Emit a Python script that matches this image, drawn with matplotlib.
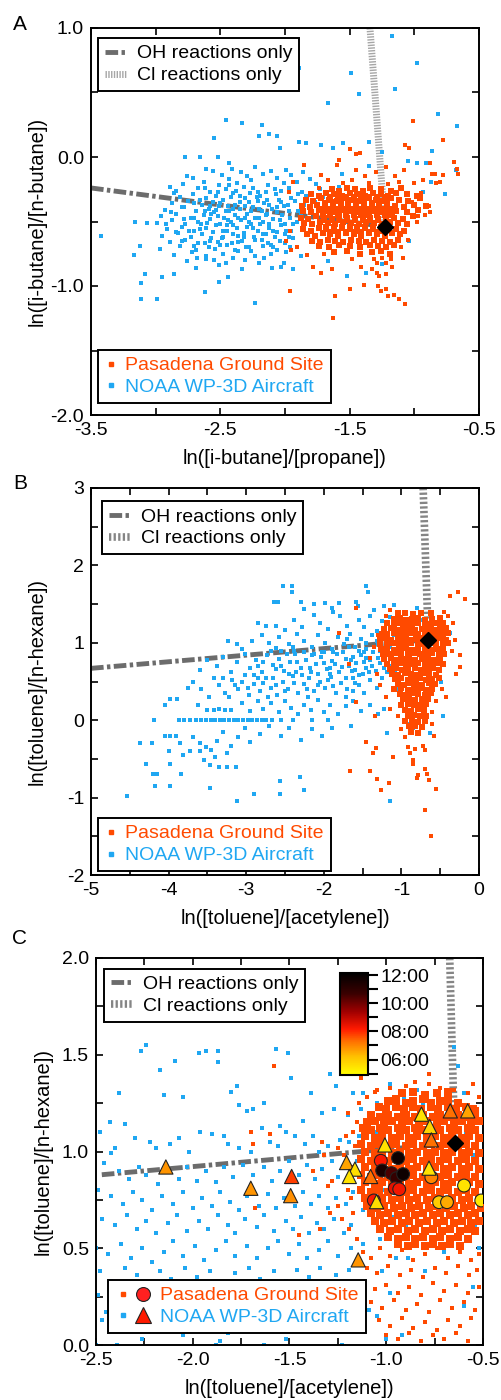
import matplotlib
matplotlib.use('Agg')
import matplotlib.pyplot as plt
from matplotlib.lines import Line2D
from matplotlib.legend_handler import HandlerTuple
from matplotlib.colors import LinearSegmentedColormap, Normalize
from matplotlib.cm import ScalarMappable
from matplotlib.ticker import FixedLocator, FormatStrFormatter

plt.rcParams['font.family'] = ['Liberation Sans', 'DejaVu Sans']
plt.rcParams['axes.unicode_minus'] = False

# ---------------- Panel A data ----------------
a_blue = [
(-1.17,0.94),(-0.98,0.73),(-1.49,0.65),(-1.89,0.69),(-1.43,0.49),(-1.15,0.53),(-1.67,0.42),(-0.82,0.33),(-0.67,0.24),
(-2.46,0.29),(-2.33,0.26),(-2.18,0.25),(-2.55,0.15),(-2.20,0.16),(-2.12,0.18),(-2.06,0.16),(-2.04,0.07),(-1.89,0.12),
(-1.84,0.11),(-1.72,0.09),(-1.63,0.07),(-1.55,0.11),(-1.35,0.12),(-1.25,0.04),(-0.86,0.05),(-1.05,-0.03),(-0.98,-0.05),
(-0.91,-0.05),(-1.35,-0.07),(-0.76,-0.29),(-0.68,-0.10),(-2.77,0.0),(-2.66,0.0),(-2.52,0.0),(-2.43,-0.05),(-2.61,-0.09),
(-2.76,-0.15),(-2.89,-0.23),(-2.86,-0.28),(-3.16,-0.50),(-3.07,-0.51),(-3.42,-0.61),(-3.17,-0.76),(-3.12,-0.69),(-3.08,-0.91),
(-3.11,-0.98),(-3.11,-1.10),(-2.99,-1.10),(-2.95,-0.93),(-2.86,-0.91),(-2.62,-1.05),(-2.51,-0.97),(-2.44,-0.93),(-2.23,-1.13),
(-2.10,-0.86),(-2.03,-0.85),(-1.94,-0.87),(-1.78,-0.85),(-1.67,-0.81),(-1.52,-0.92),(-1.37,-0.90),(-1.25,-0.83),(-1.12,-0.64),
(-1.04,-0.65),(-0.93,-0.27),(-0.87,-0.19),(-1.56,-0.13),(-1.58,-0.23),
(-2.56,-0.11),(-2.41,-0.09),(-2.34,-0.12),(-2.23,-0.08),(-2.11,-0.11),(-1.99,-0.10),(-1.86,-0.12),
(-2.71,-0.16),(-2.49,-0.14),(-2.43,-0.17),(-2.29,-0.15),(-2.17,-0.13),(-2.06,-0.16),(-1.95,-0.14),(-1.81,-0.17),
(-2.79,-0.21),(-2.63,-0.19),(-2.51,-0.22),(-2.37,-0.20),(-2.26,-0.18),(-2.13,-0.22),(-2.01,-0.20),(-1.91,-0.19),(-1.76,-0.21),
(-2.84,-0.26),(-2.67,-0.24),(-2.58,-0.27),(-2.46,-0.25),(-2.32,-0.23),(-2.21,-0.27),(-2.08,-0.25),(-1.97,-0.24),(-1.87,-0.27),(-1.73,-0.25),
(-2.81,-0.31),(-2.71,-0.29),(-2.61,-0.32),(-2.53,-0.30),(-2.40,-0.28),(-2.31,-0.32),(-2.19,-0.30),(-2.07,-0.29),(-1.95,-0.32),(-1.84,-0.30),(-1.71,-0.31),
(-2.87,-0.36),(-2.75,-0.34),(-2.64,-0.37),(-2.56,-0.35),(-2.48,-0.33),(-2.39,-0.37),(-2.28,-0.35),(-2.21,-0.34),(-2.12,-0.37),(-2.03,-0.35),(-1.92,-0.34),(-1.85,-0.37),(-1.77,-0.35),
(-2.93,-0.41),(-2.80,-0.39),(-2.69,-0.42),(-2.59,-0.40),(-2.51,-0.38),(-2.43,-0.42),(-2.35,-0.40),(-2.25,-0.39),(-2.18,-0.42),(-2.10,-0.40),(-2.01,-0.38),(-1.90,-0.42),(-1.81,-0.40),
(-2.96,-0.46),(-2.84,-0.44),(-2.73,-0.47),(-2.63,-0.45),(-2.55,-0.43),(-2.47,-0.47),(-2.39,-0.45),(-2.29,-0.44),(-2.23,-0.47),(-2.15,-0.45),(-2.06,-0.43),(-1.96,-0.47),(-1.88,-0.45),
(-2.99,-0.51),(-2.87,-0.49),(-2.77,-0.52),(-2.67,-0.50),(-2.58,-0.48),(-2.50,-0.52),(-2.42,-0.50),(-2.34,-0.49),(-2.26,-0.52),(-2.17,-0.50),(-2.09,-0.48),(-2.00,-0.52),(-1.91,-0.50),
(-2.91,-0.56),(-2.80,-0.54),(-2.70,-0.57),(-2.61,-0.55),(-2.53,-0.53),(-2.45,-0.57),(-2.37,-0.55),(-2.29,-0.54),(-2.21,-0.57),(-2.12,-0.55),(-2.03,-0.53),(-1.95,-0.57),
(-2.95,-0.61),(-2.83,-0.59),(-2.73,-0.62),(-2.64,-0.60),(-2.56,-0.58),(-2.48,-0.62),(-2.40,-0.60),(-2.32,-0.59),(-2.24,-0.62),(-2.15,-0.60),(-2.06,-0.58),(-1.97,-0.62),
(-2.89,-0.66),(-2.77,-0.64),(-2.67,-0.67),(-2.58,-0.65),(-2.49,-0.63),(-2.41,-0.67),(-2.33,-0.65),(-2.23,-0.64),(-2.13,-0.67),(-2.04,-0.65),(-1.94,-0.63),
(-2.97,-0.71),(-2.81,-0.69),(-2.69,-0.72),(-2.59,-0.70),(-2.50,-0.68),(-2.39,-0.72),(-2.28,-0.70),(-2.17,-0.69),(-2.06,-0.72),(-1.96,-0.70),
(-2.86,-0.76),(-2.72,-0.74),(-2.61,-0.77),(-2.48,-0.75),(-2.36,-0.73),(-2.23,-0.77),(-2.11,-0.75),(-1.99,-0.74),(-1.88,-0.77),
(-2.76,-0.81),(-2.61,-0.79),(-2.46,-0.82),(-2.31,-0.80),(-2.16,-0.78),(-2.01,-0.82),(-2.69,-0.86),(-2.51,-0.84),(-2.33,-0.87),
(-2.62,-0.42),(-2.44,-0.38),(-2.31,-0.47),(-2.19,-0.52),(-2.08,-0.62),(-2.36,-0.61),(-2.52,-0.66),(-2.27,-0.28),(-2.14,-0.33),
(-2.02,-0.45),(-2.45,-0.53),(-2.66,-0.56),(-2.20,-0.40),(-2.38,-0.26),(-2.57,-0.44),(-1.99,-0.57),(-2.11,-0.68),(-2.30,-0.70),
(-2.66,-0.33),(-2.58,-0.38),(-2.50,-0.36),(-2.42,-0.31),(-2.35,-0.35),(-2.26,-0.42),(-2.16,-0.36),(-2.06,-0.39),(-1.97,-0.42),
(-2.70,-0.47),(-2.60,-0.51),(-2.52,-0.46),(-2.44,-0.49),(-2.36,-0.47),(-2.28,-0.50),(-2.20,-0.47),(-2.12,-0.52),(-2.04,-0.49),(-1.94,-0.52),
(-2.74,-0.57),(-2.65,-0.52),(-2.57,-0.63),(-2.48,-0.57),(-2.40,-0.53),(-2.32,-0.62),(-2.25,-0.55),(-2.17,-0.60),(-2.09,-0.57),(-2.00,-0.60),
(-2.80,-0.65),(-2.70,-0.69),(-2.62,-0.67),(-2.54,-0.71),(-2.45,-0.68),(-2.36,-0.66),(-2.26,-0.73),(-2.18,-0.64),(-2.09,-0.70),(-2.00,-0.67),
(-2.78,-0.39),(-2.70,-0.36),(-2.53,-0.41),(-2.46,-0.42),(-2.40,-0.40),(-2.31,-0.38),(-2.22,-0.31),(-2.14,-0.44),(-2.05,-0.33),(-1.98,-0.37),
(-2.62,-0.24),(-2.52,-0.27),(-2.43,-0.22),(-2.35,-0.30),(-2.25,-0.24),(-2.15,-0.27),(-2.03,-0.26),(-1.90,-0.29),
(-2.92,-0.52),(-2.84,-0.58),(-2.78,-0.48),(-2.88,-0.43),(-2.68,-0.78),(-2.55,-0.80),(-2.40,-0.78),(-2.20,-0.82),
]
a_orange_core = [
(-1.64,-0.25),(-1.58,-0.26),(-1.52,-0.24),(-1.46,-0.25),(-1.40,-0.26),(-1.34,-0.24),(-1.26,-0.25),(-1.18,-0.26),(-1.10,-0.24),
(-1.80,-0.29),(-1.74,-0.30),(-1.68,-0.28),(-1.62,-0.29),(-1.56,-0.30),(-1.50,-0.28),(-1.44,-0.29),(-1.38,-0.30),(-1.32,-0.28),(-1.26,-0.29),(-1.20,-0.30),(-1.14,-0.28),(-1.06,-0.29),(-0.98,-0.30),
(-1.84,-0.33),(-1.78,-0.34),(-1.72,-0.32),(-1.66,-0.33),(-1.60,-0.34),(-1.54,-0.32),(-1.48,-0.33),(-1.42,-0.34),(-1.36,-0.32),(-1.30,-0.33),(-1.24,-0.34),(-1.18,-0.32),(-1.12,-0.33),(-1.05,-0.34),(-0.96,-0.32),
(-1.87,-0.38),(-1.81,-0.39),(-1.75,-0.37),(-1.69,-0.38),(-1.63,-0.39),(-1.57,-0.37),(-1.51,-0.38),(-1.45,-0.39),(-1.39,-0.37),(-1.33,-0.38),(-1.27,-0.39),(-1.21,-0.37),(-1.15,-0.38),(-1.08,-0.39),(-1.00,-0.37),(-0.91,-0.38),
(-1.86,-0.42),(-1.80,-0.43),(-1.74,-0.41),(-1.68,-0.42),(-1.62,-0.43),(-1.56,-0.41),(-1.50,-0.42),(-1.44,-0.43),(-1.38,-0.41),(-1.32,-0.42),(-1.26,-0.43),(-1.20,-0.41),(-1.14,-0.42),(-1.06,-0.43),(-0.97,-0.41),
(-1.88,-0.47),(-1.82,-0.48),(-1.76,-0.46),(-1.70,-0.47),(-1.64,-0.48),(-1.58,-0.46),(-1.52,-0.47),(-1.46,-0.48),(-1.40,-0.46),(-1.34,-0.47),(-1.28,-0.48),(-1.22,-0.46),(-1.16,-0.47),(-1.09,-0.48),(-1.01,-0.46),
(-1.85,-0.51),(-1.79,-0.52),(-1.73,-0.50),(-1.67,-0.51),(-1.61,-0.52),(-1.55,-0.50),(-1.49,-0.51),(-1.43,-0.52),(-1.37,-0.50),(-1.31,-0.51),(-1.25,-0.52),(-1.19,-0.50),(-1.13,-0.51),(-1.06,-0.52),
(-1.86,-0.56),(-1.80,-0.57),(-1.74,-0.55),(-1.68,-0.56),(-1.62,-0.57),(-1.56,-0.55),(-1.50,-0.56),(-1.44,-0.57),(-1.38,-0.55),(-1.32,-0.56),(-1.26,-0.57),(-1.20,-0.55),(-1.14,-0.56),(-1.08,-0.57),
(-1.83,-0.60),(-1.77,-0.61),(-1.71,-0.59),(-1.65,-0.60),(-1.59,-0.61),(-1.53,-0.59),(-1.47,-0.60),(-1.41,-0.61),(-1.35,-0.59),(-1.29,-0.60),(-1.23,-0.61),(-1.17,-0.59),(-1.11,-0.60),
(-1.79,-0.65),(-1.73,-0.66),(-1.67,-0.64),(-1.61,-0.65),(-1.55,-0.66),(-1.49,-0.64),(-1.43,-0.65),(-1.37,-0.66),(-1.31,-0.64),(-1.25,-0.65),(-1.19,-0.66),(-1.13,-0.64),
(-1.74,-0.69),(-1.66,-0.70),(-1.58,-0.68),(-1.50,-0.69),(-1.42,-0.70),(-1.34,-0.68),(-1.28,-0.69),(-1.22,-0.70),(-1.16,-0.68),
(-1.62,-0.74),(-1.52,-0.73),(-1.42,-0.75),(-1.33,-0.74),(-1.26,-0.73),(-1.19,-0.75),
(-1.65,-0.31),(-1.59,-0.31),(-1.53,-0.31),(-1.47,-0.31),(-1.41,-0.31),(-1.35,-0.31),(-1.29,-0.31),(-1.23,-0.31),
(-1.69,-0.36),(-1.63,-0.35),(-1.57,-0.36),(-1.51,-0.35),(-1.45,-0.36),(-1.39,-0.35),(-1.33,-0.36),(-1.27,-0.35),(-1.21,-0.36),
(-1.72,-0.40),(-1.66,-0.40),(-1.60,-0.40),(-1.54,-0.40),(-1.48,-0.40),(-1.42,-0.40),(-1.36,-0.40),(-1.30,-0.40),(-1.24,-0.40),(-1.18,-0.40),
(-1.71,-0.45),(-1.65,-0.45),(-1.59,-0.45),(-1.53,-0.45),(-1.47,-0.45),(-1.41,-0.45),(-1.35,-0.45),(-1.29,-0.45),(-1.23,-0.45),(-1.17,-0.45),
(-1.70,-0.49),(-1.64,-0.49),(-1.58,-0.49),(-1.52,-0.49),(-1.46,-0.49),(-1.40,-0.49),(-1.34,-0.49),(-1.28,-0.49),(-1.22,-0.49),
(-1.68,-0.54),(-1.62,-0.54),(-1.56,-0.54),(-1.50,-0.54),(-1.44,-0.54),(-1.38,-0.54),(-1.32,-0.54),(-1.26,-0.54),
(-1.65,-0.58),(-1.59,-0.58),(-1.53,-0.58),(-1.47,-0.58),(-1.41,-0.58),(-1.35,-0.58),(-1.29,-0.58),
]
a_orange = [
(-1.01,0.28),(-0.78,0.13),(-0.69,-0.04),(-0.67,-0.09),(-0.66,-0.13),(-1.07,0.09),(-1.04,0.07),(-1.50,0.06),(-1.45,0.02),
(-1.42,0.03),(-0.88,-0.05),(-0.86,-0.13),(-0.84,-0.13),(-0.78,-0.14),(-0.80,-0.19),(-0.83,-0.20),(-0.93,-0.18),(-0.89,-0.38),
(-0.88,-0.43),(-0.92,-0.45),(-0.98,-0.50),(-0.97,-0.46),(-1.05,-0.64),(-1.09,-0.78),(-1.96,-1.04),(-1.61,-1.08),(-1.63,-1.25),
(-1.50,-1.02),(-1.39,-0.99),(-1.28,-1.00),(-1.26,-1.04),(-1.22,-1.02),(-1.20,-1.08),(-1.16,-1.07),(-1.12,-1.10),(-1.07,-1.14),
(-1.41,-0.85),(-1.33,-0.87),(-1.29,-0.90),(-1.27,-0.92),(-1.22,-0.91),(-1.29,-0.82),(-1.22,-0.82),(-1.17,-0.85),(-1.72,-0.90),
(-1.64,-0.87),(-1.78,-0.85),(-1.95,-0.72),(-1.99,-0.65),(-1.96,-0.57),(-1.91,-0.70),(-1.83,-0.76),(-1.85,-0.06),(-1.94,-0.19),
(-1.97,-0.27),(-1.60,-0.06),(-1.58,-0.02),(-1.72,-0.14),(-1.67,-0.18),(-1.45,-0.10),(-1.38,-0.15),(-1.30,-0.12),(-1.22,-0.08),
(-1.15,-0.15),(-1.08,-0.10),(-1.00,-0.20),(-0.95,-0.28),(-1.02,-0.35),(-1.25,-0.78),(-1.31,-0.79),(-1.18,-0.79),
(-1.55,-0.20),(-1.48,-0.18),(-1.35,-0.20),(-1.20,-0.21),(-1.12,-0.19),(-1.74,-0.24),(-1.70,-0.75),(-1.48,-0.79),(-1.10,-0.70),
]
a_ref = (-1.227, -0.539)
a_oh_start = (-3.5, -0.24)
a_ci_start = (-1.343, 1.0)

# ---------------- Panel B data ----------------
b_blue = [
(-2.53,1.74),(-2.41,1.73),(-2.41,1.66),(-1.45,1.73),(-1.43,1.66),(-2.64,1.53),(-2.59,1.53),(-2.30,1.53),(-2.12,1.50),
(-1.98,1.52),(-1.80,1.52),(-1.58,1.53),(-1.56,1.48),(-1.23,1.48),(-1.10,1.49),(-2.26,1.44),(-1.90,1.45),(-1.35,1.42),
(-2.74,1.22),(-2.62,1.22),(-2.39,1.30),(-2.13,1.36),(-1.88,1.40),(-1.79,1.35),(-1.55,1.30),(-1.40,1.35),(-1.25,1.28),
(-1.15,1.33),(-2.85,1.25),(-2.50,1.16),(-2.28,1.20),(-2.05,1.25),(-1.95,1.18),(-1.70,1.22),(-1.48,1.20),(-1.32,1.15),
(-1.12,1.20),(-1.02,1.25),
(-3.23,1.02),(-3.12,0.99),(-2.93,1.02),(-2.80,1.10),(-2.70,1.00),(-2.58,1.08),(-2.45,0.98),(-2.35,1.12),(-2.25,1.02),
(-2.15,0.95),(-2.08,1.10),(-1.98,1.00),(-1.90,0.92),(-1.82,1.08),(-1.74,0.98),(-1.66,1.12),(-1.60,0.95),(-1.52,1.05),
(-1.45,0.92),(-1.38,1.10),(-1.30,0.98),(-1.22,1.06),(-1.15,0.95),(-3.05,0.92),(-2.62,0.93),(-2.38,0.90),(-2.02,0.88),
(-3.60,0.65),(-3.50,0.78),(-3.38,0.70),(-3.30,0.82),(-3.20,0.62),(-3.12,0.75),(-3.02,0.85),(-2.95,0.68),(-2.88,0.78),
(-2.80,0.62),(-2.73,0.84),(-2.66,0.71),(-2.58,0.79),(-2.51,0.64),(-2.44,0.75),(-2.37,0.85),(-2.30,0.68),(-2.23,0.78),
(-2.17,0.62),(-2.10,0.72),(-2.03,0.82),(-1.96,0.66),(-1.90,0.76),(-1.83,0.85),(-1.77,0.69),(-1.71,0.79),(-1.64,0.63),
(-1.58,0.74),(-1.52,0.84),(-1.46,0.68),(-1.40,0.78),(-1.33,0.64),(-1.27,0.74),(-1.20,0.85),(-1.13,0.70),(-2.26,0.88),
(-2.48,0.86),(-1.75,0.88),(-1.55,0.90),(-1.92,0.60),(-2.62,0.66),(-2.85,0.70),
(-3.98,0.28),(-3.89,0.28),(-3.68,0.50),(-3.58,0.40),(-3.48,0.30),(-3.42,0.55),(-3.35,0.45),(-3.27,0.35),(-3.18,0.52),
(-3.10,0.40),(-3.02,0.58),(-2.96,0.32),(-2.90,0.47),(-2.82,0.38),(-2.75,0.55),(-2.68,0.42),(-2.60,0.33),(-2.53,0.50),
(-2.46,0.40),(-2.40,0.57),(-2.33,0.35),(-2.26,0.47),(-2.19,0.55),(-2.12,0.38),(-2.05,0.50),(-1.98,0.42),(-1.91,0.56),
(-1.84,0.35),(-1.78,0.48),(-1.70,0.40),(-1.63,0.55),(-1.55,0.45),(-1.48,0.35),(-1.40,0.52),(-1.32,0.42),(-1.25,0.55),
(-1.55,0.58),(-2.72,0.30),(-3.22,0.30),(-3.75,0.42),
(-3.50,0.13),(-3.42,0.13),(-3.35,0.14),(-3.27,0.13),(-3.20,0.13),(-3.62,0.20),(-3.05,0.22),(-2.95,0.12),(-2.85,0.25),
(-2.78,0.15),(-2.68,0.22),(-2.58,0.10),(-2.50,0.25),(-2.42,0.16),(-2.33,0.08),(-2.25,0.20),(-2.16,0.13),(-2.08,0.26),
(-2.00,0.10),(-1.92,0.20),(-1.82,0.08),(-1.72,0.18),(-1.62,0.25),(-1.52,0.12),(-1.40,0.20),(-1.30,0.08),(-1.22,0.15),(-4.05,0.20),
(-4.19,0.0),(-3.87,0.0),(-3.80,0.0),(-3.72,0.0),(-3.65,0.0),(-3.58,0.0),(-3.52,0.0),(-3.46,0.0),(-3.40,0.0),(-3.34,0.0),
(-3.28,0.0),(-3.22,0.0),(-3.16,0.0),(-3.10,0.0),(-3.04,0.0),(-2.98,0.0),(-2.92,0.0),(-2.86,0.0),(-2.80,0.0),(-2.74,0.0),
(-2.67,0.0),(-2.55,0.0),(-2.40,0.0),(-2.15,0.0),(-1.95,0.0),
(-4.05,-0.21),(-3.98,-0.21),(-3.90,-0.21),(-4.37,-0.29),(-4.22,-0.29),(-3.85,-0.30),(-3.68,-0.22),(-3.60,-0.30),(-3.52,-0.35),
(-3.45,-0.38),(-3.38,-0.27),(-3.30,-0.15),(-3.20,-0.33),(-3.10,-0.22),(-3.02,-0.10),(-2.95,-0.28),(-2.82,-0.18),(-2.70,-0.08),
(-2.55,-0.20),(-2.45,-0.10),(-2.30,-0.25),(-2.15,-0.12),(-2.02,-0.20),(-4.00,-0.40),(-3.72,-0.40),(-3.60,-0.40),(-3.40,-0.48),
(-3.25,-0.42),(-3.55,-0.52),(-3.47,-0.58),(-3.35,-0.60),(-3.82,-0.45),(-1.90,-0.10),(-1.65,-0.08),
(-4.54,-0.98),(-4.29,-0.56),(-4.20,-0.69),(-4.15,-0.69),(-4.18,-0.85),(-3.98,-0.85),(-3.98,-0.56),(-3.84,-0.69),(-3.47,-0.88),
(-3.12,-1.04),(-2.90,-0.95),(-2.57,-0.79),(-2.57,-0.95),(-2.31,-0.74),(-2.25,-0.90),(-1.15,-1.04),(-3.25,-0.60),(-3.13,-0.60),
(-1.19,-0.17),(-0.63,-0.17),(-0.46,0.05),(-0.49,0.49),(-0.37,1.13),(-0.42,1.05),(-0.55,0.60),(-1.05,0.40),(-1.00,0.20),
(-1.08,0.65),(-1.10,1.10),(-0.95,1.20),(-0.80,1.45),(-0.72,1.30),(-0.55,1.25),(-0.50,0.90),(-0.85,-0.10),(-0.92,-0.05),
(-1.62,0.82),(-1.68,0.70),(-1.48,0.75),(-1.85,0.72),(-2.00,0.74),(-2.15,0.84),(-1.36,0.88),(-1.42,0.62),(-2.36,0.62),
(-1.60,0.48),(-1.88,0.44),(-2.20,0.30),(-1.45,1.00),(-1.70,1.05),(-1.28,0.90),(-2.55,0.90),(-2.78,0.48),(-3.05,0.50),
(-2.90,0.58),(-2.78,0.75),(-2.66,0.55),(-2.55,0.70),(-2.45,0.60),(-2.35,0.75),(-2.28,0.58),(-2.18,0.68),(-2.08,0.60),
(-2.00,0.88),(-1.92,0.68),(-1.80,0.62),(-1.72,0.55),(-1.65,0.78),(-1.60,0.65),(-1.50,0.60),(-1.45,0.80),(-1.38,0.70),
(-1.30,0.80),(-1.22,0.68),(-1.18,0.62),(-2.68,0.90),(-2.40,0.95),(-2.12,0.85),(-1.88,0.88),(-1.68,0.95),(-1.48,0.88),
(-1.32,1.02),(-3.30,0.55),(-3.15,0.45),(-2.98,0.42),(-2.85,0.55),(-2.62,0.45),(-2.50,0.38),(-2.38,0.48),(-2.22,0.40),
(-2.08,0.45),(-1.95,0.52),(-1.72,0.30),(-1.62,0.38),
]
b_orange_core = [
(-1.05,1.38),(-0.95,1.39),(-0.85,1.37),(-0.75,1.38),(-0.62,1.39),
(-1.10,1.31),(-1.02,1.32),(-0.94,1.30),(-0.86,1.31),(-0.78,1.32),(-0.70,1.30),(-0.60,1.31),(-0.50,1.32),
(-1.18,1.25),(-1.10,1.24),(-1.02,1.26),(-0.94,1.25),(-0.86,1.24),(-0.78,1.26),(-0.70,1.25),(-0.62,1.24),(-0.54,1.26),(-0.46,1.25),
(-1.22,1.18),(-1.14,1.19),(-1.06,1.17),(-0.98,1.18),(-0.90,1.19),(-0.82,1.17),(-0.74,1.18),(-0.66,1.19),(-0.58,1.17),(-0.50,1.18),(-0.42,1.19),
(-1.25,1.12),(-1.18,1.11),(-1.10,1.13),(-1.02,1.12),(-0.94,1.11),(-0.86,1.13),(-0.78,1.12),(-0.70,1.11),(-0.62,1.13),(-0.54,1.12),(-0.46,1.11),(-0.40,1.13),
(-1.28,1.05),(-1.21,1.06),(-1.13,1.04),(-1.05,1.05),(-0.97,1.06),(-0.89,1.04),(-0.81,1.05),(-0.73,1.06),(-0.65,1.04),(-0.57,1.05),(-0.49,1.06),(-0.42,1.04),
(-1.27,0.99),(-1.19,0.98),(-1.11,1.00),(-1.03,0.99),(-0.95,0.98),(-0.87,1.00),(-0.79,0.99),(-0.71,0.98),(-0.63,1.00),(-0.55,0.99),(-0.47,0.98),(-0.40,1.00),
(-1.26,0.92),(-1.18,0.93),(-1.10,0.91),(-1.02,0.92),(-0.94,0.93),(-0.86,0.91),(-0.78,0.92),(-0.70,0.93),(-0.62,0.91),(-0.54,0.92),(-0.46,0.93),
(-1.24,0.86),(-1.16,0.85),(-1.08,0.87),(-1.00,0.86),(-0.92,0.85),(-0.84,0.87),(-0.76,0.86),(-0.68,0.85),(-0.60,0.87),(-0.52,0.86),(-0.45,0.85),
(-1.22,0.79),(-1.14,0.80),(-1.06,0.78),(-0.98,0.79),(-0.90,0.80),(-0.82,0.78),(-0.74,0.79),(-0.66,0.80),(-0.58,0.78),(-0.50,0.79),
(-1.18,0.73),(-1.10,0.72),(-1.02,0.74),(-0.94,0.73),(-0.86,0.72),(-0.78,0.74),(-0.70,0.73),(-0.62,0.72),(-0.54,0.74),(-0.47,0.73),
(-1.15,0.66),(-1.07,0.67),(-0.99,0.65),(-0.91,0.66),(-0.83,0.67),(-0.75,0.65),(-0.67,0.66),(-0.59,0.67),(-0.51,0.65),
(-1.12,0.60),(-1.04,0.59),(-0.96,0.61),(-0.88,0.60),(-0.80,0.59),(-0.72,0.61),(-0.64,0.60),(-0.56,0.59),
(-1.08,0.53),(-1.00,0.54),(-0.92,0.52),(-0.84,0.53),(-0.76,0.54),(-0.68,0.52),(-0.60,0.53),(-0.52,0.54),
(-1.05,0.47),(-0.97,0.46),(-0.89,0.48),(-0.81,0.47),(-0.73,0.46),(-0.65,0.48),(-0.57,0.47),
(-1.10,0.40),(-1.00,0.41),(-0.92,0.39),(-0.84,0.40),(-0.76,0.41),(-0.68,0.39),(-0.60,0.40),
(-1.02,0.34),(-0.94,0.33),(-0.86,0.35),(-0.78,0.34),(-0.70,0.33),(-0.62,0.35),
(-0.98,0.27),(-0.90,0.28),(-0.82,0.26),(-0.74,0.27),(-0.66,0.28),
(-1.00,0.20),(-0.92,0.21),(-0.84,0.19),(-0.76,0.20),(-0.68,0.21),
(-0.95,0.13),(-0.87,0.12),(-0.79,0.14),(-0.71,0.13),
(-0.92,0.06),(-0.84,0.07),(-0.76,0.05),(-0.68,0.06),
(-0.96,-0.01),(-0.86,0.00),(-0.78,-0.02),(-0.70,-0.01),
(-0.90,-0.08),(-0.82,-0.07),(-0.74,-0.09),(-0.88,-0.15),(-0.78,-0.16),
]
b_orange = [
(-0.37,1.60),(-0.27,1.66),(-0.18,1.56),(-1.58,1.45),(-1.81,1.13),(-1.68,0.72),(-1.58,0.24),(-1.34,0.05),(-1.46,-0.28),
(-1.33,-0.36),(-1.37,-0.43),(-1.66,-0.66),(-1.41,-0.65),(-1.31,-0.76),(-1.26,-0.90),(-1.16,-0.81),(-1.11,-0.48),(-0.91,-0.35),
(-0.89,-0.43),(-0.85,-0.52),(-0.85,-0.57),(-0.83,-0.37),(-0.72,-0.33),(-0.70,-0.38),(-0.78,-0.71),(-0.80,-0.75),(-0.70,-0.63),
(-0.67,-0.69),(-0.65,-0.77),(-0.55,-0.89),(-0.70,-1.16),(-0.62,-1.50),(-0.42,0.30),(-0.25,0.84),(-0.24,0.69),(-0.31,1.04),
(-1.30,1.10),(-1.35,0.95),(-1.40,0.80),(-1.32,0.60),(-1.28,0.45),(-1.20,0.30),(-1.15,0.15),(-1.05,0.05),(-0.60,0.10),
(-0.55,0.25),(-0.48,0.40),(-0.40,1.35),(-0.33,1.25),(-0.45,1.40),(-1.20,1.35),(-1.15,1.42),(-0.35,0.90),(-0.30,0.60),
(-0.60,-0.05),(-0.58,-0.20),(-0.95,-0.22),(-1.00,-0.12),
]
b_ref = (-0.653, 1.04)
b_oh_start = (-5.0, 0.67)
b_ci_start = (-0.72, 3.0)

# ---------------- Panel C data ----------------
c_blue = [
(-2.24,1.55),(-2.27,1.52),(-2.17,1.42),(-2.09,1.47),(-1.97,1.51),(-1.93,1.52),(-1.87,1.52),(-1.87,1.46),(-1.57,1.53),
(-1.51,1.51),(-1.49,1.38),(-1.77,1.34),(-1.80,1.31),(-2.05,1.28),(-2.38,1.30),(-2.15,1.29),(-1.63,1.25),(-1.76,1.24),
(-1.69,1.22),(-1.39,1.30),(-1.29,1.40),(-1.26,1.34),(-1.17,1.30),(-1.12,1.30),(-1.05,1.25),(-0.98,1.35),(-0.91,1.27),
(-0.84,1.32),(-0.63,1.44),(-0.65,1.54),(-0.60,1.30),(-1.43,1.16),(-1.55,1.13),(-1.72,1.21),(-1.33,1.20),(-1.27,1.22),
(-1.20,1.19),(-1.13,1.22),
(-2.43,1.15),(-2.35,1.14),(-2.48,1.10),(-2.40,1.02),(-2.42,0.99),(-2.30,1.07),(-2.22,1.05),(-2.19,1.02),(-2.12,1.04),
(-2.07,1.07),(-2.02,1.00),(-1.96,1.10),(-1.90,1.09),(-1.84,1.08),(-1.82,1.04),(-1.76,1.02),(-1.70,1.00),(-1.64,1.12),
(-1.60,1.05),(-1.56,1.03),(-1.52,1.10),(-1.47,1.08),(-1.42,1.04),(-1.38,1.08),(-1.35,1.00),(-1.30,1.03),(-1.24,1.06),
(-1.19,1.05),(-1.14,1.08),
(-2.46,0.94),(-2.38,0.90),(-2.33,0.86),(-2.28,0.92),(-2.24,0.88),(-2.18,0.83),(-2.13,0.90),(-2.07,0.86),(-2.03,0.92),
(-1.98,0.85),(-1.93,0.90),(-1.88,0.84),(-1.84,0.92),(-1.79,0.87),(-1.74,0.93),(-1.69,0.88),(-1.63,0.92),(-1.59,0.85),
(-1.55,0.90),(-1.50,0.95),(-1.45,0.88),(-1.41,0.93),(-1.37,0.86),(-1.33,0.91),(-1.28,0.95),(-1.25,0.87),(-1.15,0.95),(-1.11,0.86),
(-2.49,0.80),(-2.42,0.77),(-2.36,0.73),(-2.31,0.79),(-2.26,0.75),(-2.21,0.70),(-2.16,0.77),(-2.10,0.73),(-2.05,0.79),
(-2.00,0.71),(-1.95,0.76),(-1.90,0.72),(-1.86,0.79),(-1.81,0.74),(-1.76,0.70),(-1.72,0.77),(-1.66,0.72),(-1.61,0.78),
(-1.57,0.71),(-1.53,0.76),(-1.47,0.72),(-1.43,0.79),(-1.39,0.73),(-1.35,0.77),(-1.30,0.71),(-1.26,0.76),(-1.21,0.73),
(-1.17,0.79),(-1.12,0.70),
(-2.47,0.65),(-2.40,0.62),(-2.34,0.67),(-2.29,0.60),(-2.24,0.64),(-2.19,0.58),(-2.13,0.63),(-2.08,0.67),(-2.03,0.59),
(-1.97,0.64),(-1.92,0.60),(-1.87,0.67),(-1.82,0.62),(-1.78,0.58),(-1.73,0.65),(-1.67,0.61),(-1.63,0.67),(-1.58,0.59),
(-1.52,0.64),(-1.48,0.60),(-1.44,0.66),(-1.40,0.58),(-1.36,0.63),(-1.32,0.60),(-1.27,0.65),(-1.22,0.58),(-1.18,0.62),
(-2.50,0.50),(-2.44,0.47),(-2.37,0.52),(-2.32,0.45),(-2.26,0.50),(-2.21,0.43),(-2.15,0.48),(-2.10,0.54),(-2.05,0.46),
(-1.99,0.51),(-1.94,0.44),(-1.88,0.49),(-1.83,0.54),(-1.78,0.46),(-1.72,0.51),(-1.67,0.45),(-1.61,0.50),(-1.56,0.54),
(-1.50,0.47),(-1.45,0.52),(-1.41,0.45),(-1.35,0.49),(-1.30,0.54),(-1.25,0.46),(-1.18,0.50),(-1.12,0.52),
(-2.48,0.38),(-2.42,0.33),(-2.35,0.40),(-2.29,0.36),(-2.23,0.31),(-2.17,0.38),(-2.11,0.34),(-2.04,0.40),(-1.98,0.35),
(-1.91,0.38),(-1.84,0.32),(-1.78,0.37),(-1.71,0.40),(-1.65,0.34),(-1.58,0.38),(-1.52,0.33),(-1.46,0.39),(-1.40,0.35),
(-1.34,0.40),(-1.26,0.36),(-1.19,0.39),
(-2.49,0.26),(-2.45,0.17),(-2.47,0.13),(-2.40,0.22),(-2.33,0.25),(-2.27,0.18),(-2.26,0.03),(-2.05,0.05),(-1.86,0.02),
(-1.82,0.06),(-1.52,0.03),(-2.39,0.0),(-2.50,0.0),(-1.88,0.0),(-1.63,0.0),(-1.23,0.0),(-1.00,0.03),(-0.92,0.05),
(-1.69,0.27),(-1.59,0.22),(-1.37,0.23),(-1.15,0.26),(-1.09,0.18),(-1.05,0.15),(-1.24,0.30),
(-1.00,1.20),(-0.95,1.22),(-0.88,1.24),(-0.81,1.25),(-0.72,1.27),(-0.67,1.25),(-0.56,1.20),(-0.59,1.10),(-0.55,0.98),
(-0.62,0.95),(-0.58,0.75),(-0.54,0.62),(-0.63,0.55),(-0.70,0.48),(-0.90,0.62),(-0.97,0.66),(-1.03,0.55),(-1.07,0.67),
(-0.85,0.78),(-0.78,0.72),(-0.68,0.56),(-0.52,0.50),(-0.55,0.30),(-0.60,0.20),(-0.80,0.38),(-0.89,0.45),(-0.95,0.45),
(-1.02,0.38),(-0.98,0.27),(-1.05,1.10),(-1.10,1.13),(-1.01,0.80),(-1.07,0.95),
]
c_orange_core = [
(-0.92,1.30),(-0.86,1.31),(-0.80,1.29),(-0.74,1.30),(-0.68,1.31),
(-0.99,1.26),(-0.95,1.27),(-0.90,1.25),(-0.86,1.26),(-0.81,1.27),(-0.77,1.25),(-0.72,1.26),(-0.68,1.27),(-0.63,1.25),
(-1.04,1.23),(-1.00,1.22),(-0.95,1.23),(-0.91,1.22),(-0.86,1.23),(-0.82,1.22),(-0.77,1.23),(-0.73,1.22),(-0.68,1.23),(-0.64,1.22),(-0.59,1.23),(-0.55,1.22),
(-1.08,1.19),(-1.03,1.18),(-0.99,1.19),(-0.94,1.18),(-0.90,1.19),(-0.85,1.18),(-0.81,1.19),(-0.76,1.18),(-0.72,1.19),(-0.67,1.18),(-0.63,1.19),(-0.58,1.18),(-0.54,1.19),
(-1.10,1.15),(-1.06,1.16),(-1.01,1.15),(-0.97,1.16),(-0.92,1.15),(-0.88,1.16),(-0.83,1.15),(-0.79,1.16),(-0.74,1.15),(-0.70,1.16),(-0.65,1.15),(-0.61,1.16),(-0.56,1.15),(-0.52,1.16),
(-1.12,1.12),(-1.08,1.11),(-1.03,1.12),(-0.99,1.11),(-0.94,1.12),(-0.90,1.11),(-0.85,1.12),(-0.81,1.11),(-0.76,1.12),(-0.72,1.11),(-0.67,1.12),(-0.63,1.11),(-0.58,1.12),(-0.54,1.11),
(-1.11,1.08),(-1.06,1.07),(-1.02,1.08),(-0.97,1.07),(-0.93,1.08),(-0.88,1.07),(-0.84,1.08),(-0.79,1.07),(-0.75,1.08),(-0.70,1.07),(-0.66,1.08),(-0.61,1.07),(-0.57,1.08),(-0.52,1.07),
(-1.13,1.04),(-1.08,1.03),(-1.04,1.04),(-0.99,1.03),(-0.95,1.04),(-0.90,1.03),(-0.86,1.04),(-0.81,1.03),(-0.77,1.04),(-0.72,1.03),(-0.68,1.04),(-0.63,1.03),(-0.59,1.04),(-0.54,1.03),
(-1.11,1.00),(-1.06,0.99),(-1.02,1.00),(-0.97,0.99),(-0.93,1.00),(-0.88,0.99),(-0.84,1.00),(-0.79,0.99),(-0.75,1.00),(-0.70,0.99),(-0.66,1.00),(-0.61,0.99),(-0.57,1.00),(-0.52,0.99),
(-1.13,0.96),(-1.08,0.95),(-1.04,0.96),(-0.99,0.95),(-0.95,0.96),(-0.90,0.95),(-0.86,0.96),(-0.81,0.95),(-0.77,0.96),(-0.72,0.95),(-0.68,0.96),(-0.63,0.95),(-0.59,0.96),(-0.54,0.95),
(-1.11,0.92),(-1.06,0.91),(-1.02,0.92),(-0.97,0.91),(-0.93,0.92),(-0.88,0.91),(-0.84,0.92),(-0.79,0.91),(-0.75,0.92),(-0.70,0.91),(-0.66,0.92),(-0.61,0.91),(-0.57,0.92),(-0.52,0.91),
(-1.13,0.88),(-1.08,0.87),(-1.04,0.88),(-0.99,0.87),(-0.95,0.88),(-0.90,0.87),(-0.86,0.88),(-0.81,0.87),(-0.77,0.88),(-0.72,0.87),(-0.68,0.88),(-0.63,0.87),(-0.59,0.88),(-0.54,0.87),
(-1.11,0.84),(-1.06,0.83),(-1.02,0.84),(-0.97,0.83),(-0.93,0.84),(-0.88,0.83),(-0.84,0.84),(-0.79,0.83),(-0.75,0.84),(-0.70,0.83),(-0.66,0.84),(-0.61,0.83),(-0.57,0.84),(-0.52,0.83),
(-1.13,0.80),(-1.08,0.79),(-1.04,0.80),(-0.99,0.79),(-0.95,0.80),(-0.90,0.79),(-0.86,0.80),(-0.81,0.79),(-0.77,0.80),(-0.72,0.79),(-0.68,0.80),(-0.63,0.79),(-0.59,0.80),(-0.54,0.79),
(-1.11,0.76),(-1.06,0.75),(-1.02,0.76),(-0.97,0.75),(-0.93,0.76),(-0.88,0.75),(-0.84,0.76),(-0.79,0.75),(-0.75,0.76),(-0.70,0.75),(-0.66,0.76),(-0.61,0.75),(-0.57,0.76),(-0.52,0.75),
(-1.10,0.72),(-1.05,0.71),(-1.01,0.72),(-0.96,0.71),(-0.92,0.72),(-0.87,0.71),(-0.83,0.72),(-0.78,0.71),(-0.74,0.72),(-0.69,0.71),(-0.65,0.72),(-0.60,0.71),(-0.56,0.72),(-0.51,0.71),
(-1.08,0.68),(-1.03,0.67),(-0.99,0.68),(-0.94,0.67),(-0.90,0.68),(-0.85,0.67),(-0.81,0.68),(-0.76,0.67),(-0.72,0.68),(-0.67,0.67),(-0.63,0.68),(-0.58,0.67),(-0.54,0.68),
(-1.06,0.64),(-1.01,0.63),(-0.97,0.64),(-0.92,0.63),(-0.88,0.64),(-0.83,0.63),(-0.79,0.64),(-0.74,0.63),(-0.70,0.64),(-0.65,0.63),(-0.61,0.64),(-0.56,0.63),(-0.52,0.64),
(-1.03,0.60),(-0.98,0.59),(-0.94,0.60),(-0.89,0.59),(-0.85,0.60),(-0.80,0.59),(-0.76,0.60),(-0.71,0.59),(-0.67,0.60),(-0.62,0.59),(-0.58,0.60),(-0.54,0.59),
(-0.99,0.56),(-0.94,0.55),(-0.90,0.56),(-0.85,0.55),(-0.81,0.56),(-0.76,0.55),(-0.72,0.56),(-0.67,0.55),(-0.63,0.56),(-0.58,0.55),
(-0.94,0.52),(-0.89,0.51),(-0.85,0.52),(-0.80,0.51),(-0.76,0.52),(-0.71,0.51),(-0.67,0.52),(-0.62,0.51),
]
c_orange = [
(-1.25,1.02),(-1.22,0.98),(-1.20,0.80),(-1.18,0.76),(-1.25,0.72),(-1.28,0.85),(-1.23,0.65),(-1.19,0.60),(-1.15,0.55),
(-1.17,0.68),(-1.15,1.15),(-1.20,1.20),(-1.17,1.10),(-1.14,1.25),(-1.10,1.28),(-1.05,1.32),(-0.98,1.33),(-0.90,1.34),
(-0.85,1.36),(-0.78,1.35),(-0.72,1.33),(-0.65,1.32),(-0.58,1.30),(-0.55,1.35),(-0.78,1.40),(-1.06,1.31),(-0.52,1.28),
(-0.53,1.22),(-1.58,1.44),(-1.70,1.10),(-1.60,1.09),(-1.69,1.04),(-1.68,0.71),(-1.45,0.57),(-1.38,0.90),(-1.32,0.98),
(-1.34,0.60),(-1.30,0.82),(-1.29,0.68),(-1.13,1.38),(-1.33,1.05),(-1.17,0.92),(-1.19,0.85),(-1.16,1.03),(-1.21,1.08),
(-1.12,0.48),(-1.08,0.45),(-1.03,0.50),(-0.98,0.46),(-0.92,0.49),(-0.86,0.44),(-0.80,0.47),(-0.74,0.50),(-0.68,0.45),
(-0.62,0.48),(-0.56,0.44),(-0.52,0.47),(-1.10,0.40),(-1.05,0.37),(-0.99,0.41),(-0.93,0.36),(-0.87,0.39),(-0.81,0.35),
(-0.75,0.40),(-0.69,0.37),(-0.63,0.41),(-0.57,0.36),(-0.53,0.39),(-1.13,0.32),(-1.06,0.29),(-1.00,0.31),(-0.94,0.27),
(-0.88,0.30),(-0.82,0.26),(-0.76,0.32),(-0.70,0.28),(-0.64,0.31),(-0.58,0.27),(-0.52,0.30),(-1.08,0.22),(-1.02,0.19),
(-0.96,0.23),(-0.90,0.18),(-0.84,0.21),(-0.78,0.17),(-0.72,0.23),(-0.66,0.19),(-0.60,0.22),(-0.54,0.18),(-1.04,0.13),
(-0.98,0.10),(-0.92,0.14),(-0.86,0.09),(-0.80,0.12),(-0.74,0.08),(-0.68,0.13),(-0.62,0.10),(-0.56,0.14),(-1.00,0.05),
(-0.94,0.03),(-0.88,0.06),(-0.82,0.02),(-0.76,0.05),(-0.70,0.03),(-0.64,0.06),(-0.58,0.02),
]
c_ref = (-0.646, 1.043)
c_oh_start = (-2.47, 0.88)
c_ci_start = (-0.672, 2.0)

# ground-site (circles) and aircraft (triangles) averages, colored by local time (hours)
c_gs_x = [-1.028, -0.939, -1.021, -0.973, -0.947, -0.913, -0.956, -0.933, -1.064, -0.767, -0.598, -0.727, -0.686, -0.509]
c_gs_y = [0.952, 0.966, 0.902, 0.888, 0.862, 0.883, 0.810, 0.805, 0.747, 0.867, 0.824, 0.738, 0.738, 0.747]
c_gs_t = [8.2, 11.8, 11.5, 10.5, 10.8, 11.8, 8.5, 8.3, 8.2, 7.0, 5.5, 6.0, 6.5, 5.4]
c_ac_x = [-2.139, -1.700, -1.489, -1.494, -1.145, -1.205, -1.162, -1.191, -1.081, -1.007, -1.050, -0.818, -0.775, -0.767, -0.779, -0.669, -0.579]
c_ac_y = [0.920, 0.810, 0.871, 0.772, 0.440, 0.943, 0.909, 0.871, 0.871, 1.034, 0.741, 1.193, 1.129, 1.060, 0.914, 1.210, 1.210]
c_ac_t = [6.8, 6.8, 7.8, 6.9, 6.8, 6.6, 5.6, 5.5, 7.3, 5.5, 5.6, 5.5, 5.8, 7.3, 5.5, 7.3, 6.6]
cb_ticks = [6, 8, 10, 12]
cb_labels = ['06:00', '08:00', '10:00', '12:00']

# ---------------- styling ----------------
ORANGE = '#ff4a00'
BLUE = '#1fa7f2'
OHGRAY = '#6c6c6c'
W, H = 502, 1400
fig = plt.figure(figsize=(W / 100, H / 100), dpi=100)

def px_axes(l, t, r, b):
    return fig.add_axes([l / W, 1 - b / H, (r - l) / W, (b - t) / H])

axA = px_axes(91, 28, 479, 415)
axB = px_axes(91, 488, 479, 875)
axC = px_axes(96, 958, 483, 1345)

oh_dash = (2.6, 0.7, 0.7, 0.7)

def style_axes(ax, xlim, ylim, xmaj, xmin, ymaj, ymin, fmt):
    ax.set_xlim(*xlim)
    ax.set_ylim(*ylim)
    ax.xaxis.set_major_locator(FixedLocator(xmaj))
    ax.xaxis.set_minor_locator(FixedLocator(xmin))
    ax.yaxis.set_major_locator(FixedLocator(ymaj))
    ax.yaxis.set_minor_locator(FixedLocator(ymin))
    ax.xaxis.set_major_formatter(FormatStrFormatter(fmt))
    ax.yaxis.set_major_formatter(FormatStrFormatter(fmt))
    ax.tick_params(which='both', direction='in', top=True, right=True, length=5, width=1.2,
                   labelsize=14, pad=5)
    for s in ax.spines.values():
        s.set_linewidth(1.4)

def draw_common(ax, blue, orange_core, orange, ref, oh_start, ci_start, ci_style, core_s, blue_s):
    ax.plot([oh_start[0], ref[0]], [oh_start[1], ref[1]], color=OHGRAY, lw=3.5,
            dashes=oh_dash, zorder=1, solid_capstyle='butt')
    ax.plot([ci_start[0], ref[0]], [ci_start[1], ref[1]], zorder=1, **ci_style)
    bx, by = zip(*blue)
    kx, ky = zip(*orange_core)
    ox, oy = zip(*orange)
    ax.scatter(bx, by, s=blue_s, marker='s', c=BLUE, linewidths=0, zorder=2)
    ax.scatter(kx, ky, s=core_s, marker='s', c=ORANGE, linewidths=0, zorder=3)
    ax.scatter(ox, oy, s=10, marker='s', c=ORANGE, linewidths=0, zorder=3)
    ax.plot([ref[0]], [ref[1]], marker='D', ms=8, color='black', zorder=6, ls='none')

ci_A = dict(color='#a6a6a6', lw=5.0, dashes=(0.2, 0.2))
ci_BC = dict(color='#858585', lw=5.5, dashes=(0.3, 0.3))

draw_common(axA, a_blue, a_orange_core, a_orange, a_ref, a_oh_start, a_ci_start, ci_A, 21, 11)
draw_common(axB, b_blue, b_orange_core, b_orange, b_ref, b_oh_start, b_ci_start, ci_BC, 18, 10)
draw_common(axC, c_blue, c_orange_core, c_orange, c_ref, c_oh_start, c_ci_start, ci_BC, 30, 9)

style_axes(axA, (-3.5, -0.5), (-2.0, 1.0), [-3.5, -2.5, -1.5, -0.5], [-3.0, -2.0, -1.0],
           [-2.0, -1.0, 0.0, 1.0], [-1.5, -0.5, 0.5], '%.1f')
style_axes(axB, (-5, 0), (-2, 3), [-5, -4, -3, -2, -1, 0], [-4.5, -3.5, -2.5, -1.5, -0.5],
           [-2, -1, 0, 1, 2, 3], [-1.5, -0.5, 0.5, 1.5, 2.5], '%d')
style_axes(axC, (-2.5, -0.5), (0.0, 2.0), [-2.5, -2.0, -1.5, -1.0, -0.5], [-2.25, -1.75, -1.25, -0.75],
           [0.0, 0.5, 1.0, 1.5, 2.0], [0.25, 0.75, 1.25, 1.75], '%.1f')

# colormap for time of day
tcmap = LinearSegmentedColormap.from_list('tod', [(0.0, '#ffff00'), (0.18, '#ffc000'), (0.33, '#ff7000'),
                                                   (0.45, '#ff1a00'), (0.62, '#a00000'), (0.8, '#3a0000'),
                                                   (1.0, '#000000')])
tnorm = Normalize(vmin=4.9, vmax=12.15)
axC.scatter(c_gs_x, c_gs_y, c=c_gs_t, cmap=tcmap, norm=tnorm, s=85, marker='o',
            edgecolors='#222222', linewidths=0.8, zorder=7)
axC.scatter(c_ac_x, c_ac_y, c=c_ac_t, cmap=tcmap, norm=tnorm, s=105, marker='^',
            edgecolors='#222222', linewidths=0.8, zorder=8)

# labels
label_fs = 14.5
axA.set_xlabel('ln([i-butane]/[propane])', fontsize=label_fs)
axA.set_ylabel('ln([i-butane]/[n-butane])', fontsize=label_fs)
axB.set_xlabel('ln([toluene]/[acetylene])', fontsize=label_fs)
axB.set_ylabel('ln([toluene]/[n-hexane])', fontsize=label_fs)
axC.set_xlabel('ln([toluene]/[acetylene])', fontsize=label_fs)
axC.set_ylabel('ln([toluene]/[n-hexane])', fontsize=label_fs)
for ax in (axA, axB):
    ax.xaxis.set_label_coords(0.5, -0.088)
    ax.yaxis.set_label_coords(-0.115, 0.5)
axC.xaxis.set_label_coords(0.5, -0.088)
axC.yaxis.set_label_coords(-0.112, 0.5)

fig.text(20 / W, 1 - 24 / H, 'A', fontsize=15, ha='center', va='center')
fig.text(20 / W, 1 - 484 / H, 'B', fontsize=15, ha='center', va='center')
fig.text(20 / W, 1 - 938 / H, 'C', fontsize=15, ha='center', va='center')

# legends
def line_legend(ax, ci_style, anchor):
    h_oh = Line2D([], [], color=OHGRAY, lw=3.5, dashes=oh_dash)
    h_ci = Line2D([], [], **ci_style)
    leg = ax.legend([h_oh, h_ci], ['OH reactions only', 'Cl reactions only'], loc='upper left',
                    bbox_to_anchor=anchor, borderaxespad=0, fontsize=14, handlelength=1.15,
                    handletextpad=0.5, labelspacing=0.22, borderpad=0.35, fancybox=False,
                    framealpha=1, edgecolor='black')
    leg.get_frame().set_linewidth(1.4)
    leg.set_zorder(10)
    return leg

def point_legend(ax, anchor, big=False):
    sq_o = Line2D([], [], marker='s', ms=3, color=ORANGE, ls='none')
    sq_b = Line2D([], [], marker='s', ms=3, color=BLUE, ls='none')
    if big:
        ci = Line2D([], [], marker='o', ms=10, mfc='#ff2020', mec='#222222', mew=0.8, ls='none')
        tr = Line2D([], [], marker='^', ms=11, mfc='#ff1a00', mec='#222222', mew=0.8, ls='none')
        handles = [(sq_o, ci), (sq_b, tr)]
        hl = 1.9
    else:
        handles = [sq_o, sq_b]
        hl = 0.6
    leg = ax.legend(handles, ['Pasadena Ground Site', 'NOAA WP-3D Aircraft'], loc='lower left',
                    bbox_to_anchor=anchor, borderaxespad=0, fontsize=14, handlelength=hl,
                    handletextpad=0.45, labelspacing=0.22, borderpad=0.35, fancybox=False,
                    framealpha=1, edgecolor='black',
                    handler_map={tuple: HandlerTuple(ndivide=None, pad=0.2)})
    leg.get_frame().set_linewidth(1.4)
    leg.set_zorder(10)
    for t, col in zip(leg.get_texts(), [ORANGE, BLUE]):
        t.set_color(col)
    return leg

for ax, ci_style, up, low, big in [(axA, ci_A, (0.018, 0.974), (0.018, 0.031), False),
                                   (axB, ci_BC, (0.028, 0.966), (0.018, 0.010), False),
                                   (axC, ci_BC, (0.021, 0.972), (0.031, 0.031), True)]:
    l1 = line_legend(ax, ci_style, up)
    ax.add_artist(l1)
    point_legend(ax, low, big)

# colorbar inside panel C
cax = px_axes(340, 973, 368, 1075)
cb = fig.colorbar(ScalarMappable(norm=tnorm, cmap=tcmap), cax=cax)
cb.set_ticks(cb_ticks)
cb.set_ticklabels(cb_labels)
cax.yaxis.set_minor_locator(FixedLocator([5, 7, 9, 11]))
cax.tick_params(which='both', direction='out', length=7, width=1.5, labelsize=14, pad=2)
cb.outline.set_linewidth(1.5)

fig.savefig('out.png', dpi=100)
